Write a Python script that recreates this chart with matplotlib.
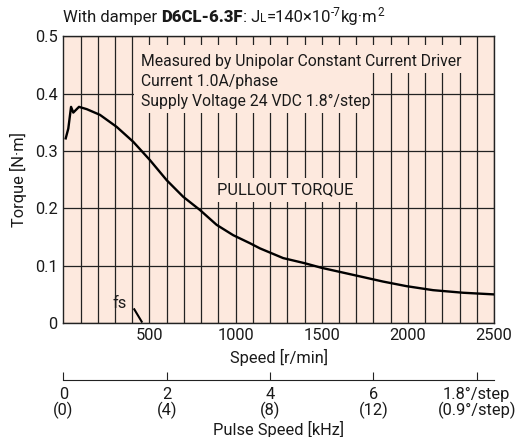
import matplotlib
matplotlib.use("Agg")
import matplotlib.pyplot as plt
from matplotlib.patches import Rectangle

plt.rcParams['font.family'] = ['Roboto', 'DejaVu Sans']

# pullout torque curve
speed = [14, 29, 45, 58, 91, 136, 213, 310, 406, 503, 600, 696, 793, 890, 986,
         1083, 1141, 1276, 1402, 1499, 1663, 1856, 1992, 2146, 2320, 2494]
torque = [0.322, 0.339, 0.377, 0.367, 0.377, 0.373, 0.363, 0.342, 0.316, 0.284,
          0.249, 0.220, 0.197, 0.171, 0.153, 0.139, 0.130, 0.113, 0.104, 0.096,
          0.085, 0.072, 0.064, 0.057, 0.0525, 0.0497]
fs_speed = [412, 455]
fs_torque = [0.0236, 0.002]

speed_ticks = [500, 1000, 1500, 2000, 2500]
torque_ticks = [0, 0.1, 0.2, 0.3, 0.4, 0.5]
torque_labels = ["0", "0.1", "0.2", "0.3", "0.4", "0.5"]
pulse_ticks = [0, 2, 4, 6, 8]
pulse_labels = ["0\n(0)", "2\n(4)", "4\n(8)", "6\n(12)", "1.8°/step\n(0.9°/step)"]

bg = '#fde9de'
ink = '#1a1a1a'
fsz = 11.8

fig = plt.figure(figsize=(5.18, 4.37), dpi=100)
ax = fig.add_axes([0.1222, 0.2613, 0.8315, 0.6554])
ax.set_facecolor(bg)
ax.set_xlim(0, 2500)
ax.set_ylim(0, 0.5)
ax.set_xticks(speed_ticks)
ax.set_xticks(range(100, 2500, 100), minor=True)
ax.set_yticks(torque_ticks)
ax.set_yticklabels(torque_labels)
ax.tick_params(which='both', length=0, labelsize=fsz, colors=ink, pad=4)
ax.grid(True, which='both', color='#222222', lw=0.9, zorder=1)
ax.set_axisbelow(True)
for s in ax.spines.values():
    s.set_color('#222222')
    s.set_linewidth(1.0)

ax.plot(speed, torque, color='black', lw=1.7, zorder=4)
ax.plot(fs_speed, fs_torque, color='black', lw=1.5, zorder=4)
ax.text(325, 0.034, "fs", fontsize=fsz, color=ink, ha='center', va='center', zorder=5)

# boxes that hide the grid behind the notes
ax.add_patch(Rectangle((410, 0.436), 1965, 0.049, facecolor=bg, edgecolor='none', zorder=2))
ax.add_patch(Rectangle((410, 0.366), 1375, 0.072, facecolor=bg, edgecolor='none', zorder=2))
ax.add_patch(Rectangle((816, 0.211), 962, 0.042, facecolor=bg, edgecolor='none', zorder=2))

ax.text(450, 0.456, "Measured by Unipolar Constant Current Driver", fontsize=11.3,
        color=ink, va='center', zorder=5)
ax.text(450, 0.421, "Current 1.0A/phase", fontsize=11.3, color=ink, va='center', zorder=5)
ax.text(450, 0.386, "Supply Voltage 24 VDC 1.8°/step", fontsize=11.3, color=ink,
        va='center', zorder=5)
ax.text(1290, 0.232, "PULLOUT TORQUE", fontsize=fsz, color=ink, ha='center',
        va='center', zorder=5)

ax.set_xlabel("Speed [r/min]", fontsize=fsz, color=ink, labelpad=4)
ax.set_ylabel("Torque [N·m]", fontsize=fsz, color=ink, labelpad=6)

# pulse speed axis
ax2 = fig.add_axes([0.1222, 0.1304, 0.8315, 0.001])
ax2.set_xlim(0, 2500 / 300)
ax2.set_ylim(0, 1)
ax2.patch.set_visible(False)
for k in ['top', 'left', 'right']:
    ax2.spines[k].set_visible(False)
ax2.spines['bottom'].set_color('#222222')
ax2.set_yticks([])
ax2.set_xticks(pulse_ticks)
ax2.set_xticklabels(pulse_labels, fontsize=fsz, color=ink, linespacing=0.95)
ax2.xaxis.set_ticks_position('bottom')
ax2.tick_params(axis='x', direction='in', length=6, color='#222222', pad=5)
ax2.set_xlabel("Pulse Speed [kHz]", fontsize=fsz, color=ink, labelpad=2)

# title, written piece by piece
fig.canvas.draw()
r = fig.canvas.get_renderer()
W = fig.bbox.width
H = fig.bbox.height
x = 63.0
base = 437 - 22.0


def put(s, size=12, dy=0.0, **kw):
    global x
    t = fig.text(x / W, (base + dy) / H, s, fontsize=size, color=ink,
                 va='baseline', **kw)
    x = t.get_window_extent(r).x1
    return t


put("With damper ")
put("D6CL-6.3F", fontweight='heavy')
put(": J")
put("L", size=8.5)
put("=140×10")
put("-7", size=8.5, dy=6)
put("kg·m")
put("2", size=8.5, dy=6)

fig.savefig("out.png", dpi=100, facecolor='white')
